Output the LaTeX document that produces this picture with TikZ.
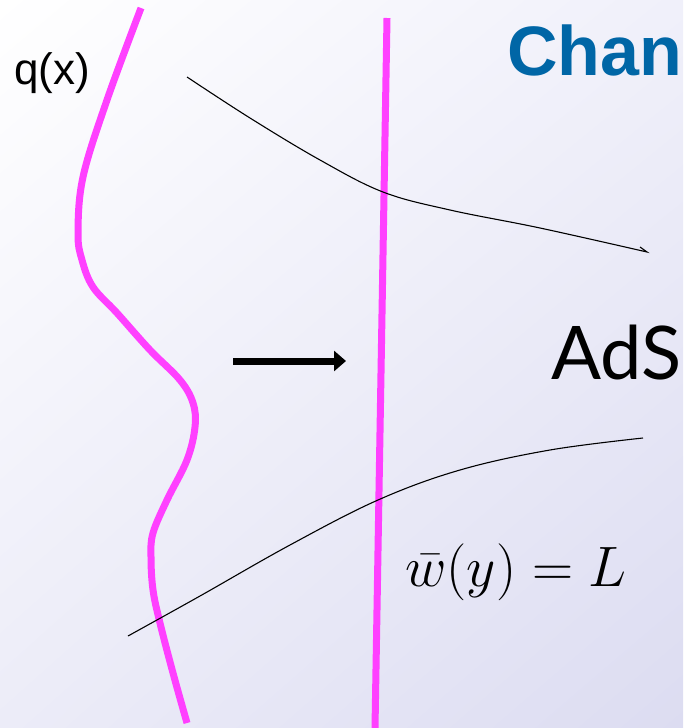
\RequirePackage{fix-cm}
\documentclass[tikz,border=0pt]{standalone}
\usepackage{fontspec}
\setmainfont{Liberation Sans}
\newfontfamily\adsfont{Lato}
\usetikzlibrary{arrows.meta,shadings}
\definecolor{bgTR}{RGB}{240,240,250}
\definecolor{bgBL}{RGB}{236,236,248}
\definecolor{bgBR}{RGB}{220,220,241}
\definecolor{mag}{RGB}{255,64,255}
\definecolor{titleblue}{RGB}{0,102,166}
\tikzset{
  magline/.style={draw=mag, line width=7pt, line cap=butt},
  thinline/.style={draw=black, line width=1.1pt},
  label/.style={inner sep=0pt, anchor=base west},
}
\begin{document}
\begin{tikzpicture}[x=1pt,y=-1pt]
\useasboundingbox (0,0) rectangle (683,728);
\clip (0,0) rectangle (683,728);
\shade[upper left=white, upper right=bgTR, lower left=bgBL, lower right=bgBR] (0,0) rectangle (683,728);

% left wavy magenta curve
\draw[magline] plot[smooth, tension=0.6] coordinates {(141,8) (107,100) (83,177) (78,233) (82,260) (93,287) (117,313) (150,350) (180,380) (193,403) (195,427) (187,460) (167,500) (153,533) (151,557) (153,590) (160,623) (173,673) (187,723)};

% straight magenta line
\coordinate (mt) at (387,18);
\coordinate (mb) at (375,728);
\draw[magline] (mt) -- (mb);

% upper black curve with hook
\draw[thinline] plot[smooth, tension=0.6] coordinates {(187,77) (250,118) (320,160) (383,192) (450,210) (540,228) (647,252)} -- (640,247);

% lower black curve
\draw[thinline] plot[smooth, tension=0.6] coordinates {(128,636) (200,596) (290,545) (378,500) (460,470) (550,450) (643,438)};

% arrow
\coordinate (as) at (233,361);
\coordinate (ae) at (346,361);
\draw[line width=7pt, -{Triangle[length=12pt,width=20pt]}] (as) -- (ae);

% texts
\node[label, font=\fontsize{44}{50}\selectfont] (q) at (14,84) {q(x)};
\node[label, font=\fontsize{70}{80}\selectfont\bfseries, text=titleblue] (title) at (507,75) {Chan};
\node[label, font=\adsfont\fontsize{74}{84}\selectfont] (ads) at (551,379) {AdS};
\node[label, font=\fontsize{57}{62}\selectfont] (eq) at (405,586) {$\bar w(y) = L$};
\end{tikzpicture}
\end{document}
